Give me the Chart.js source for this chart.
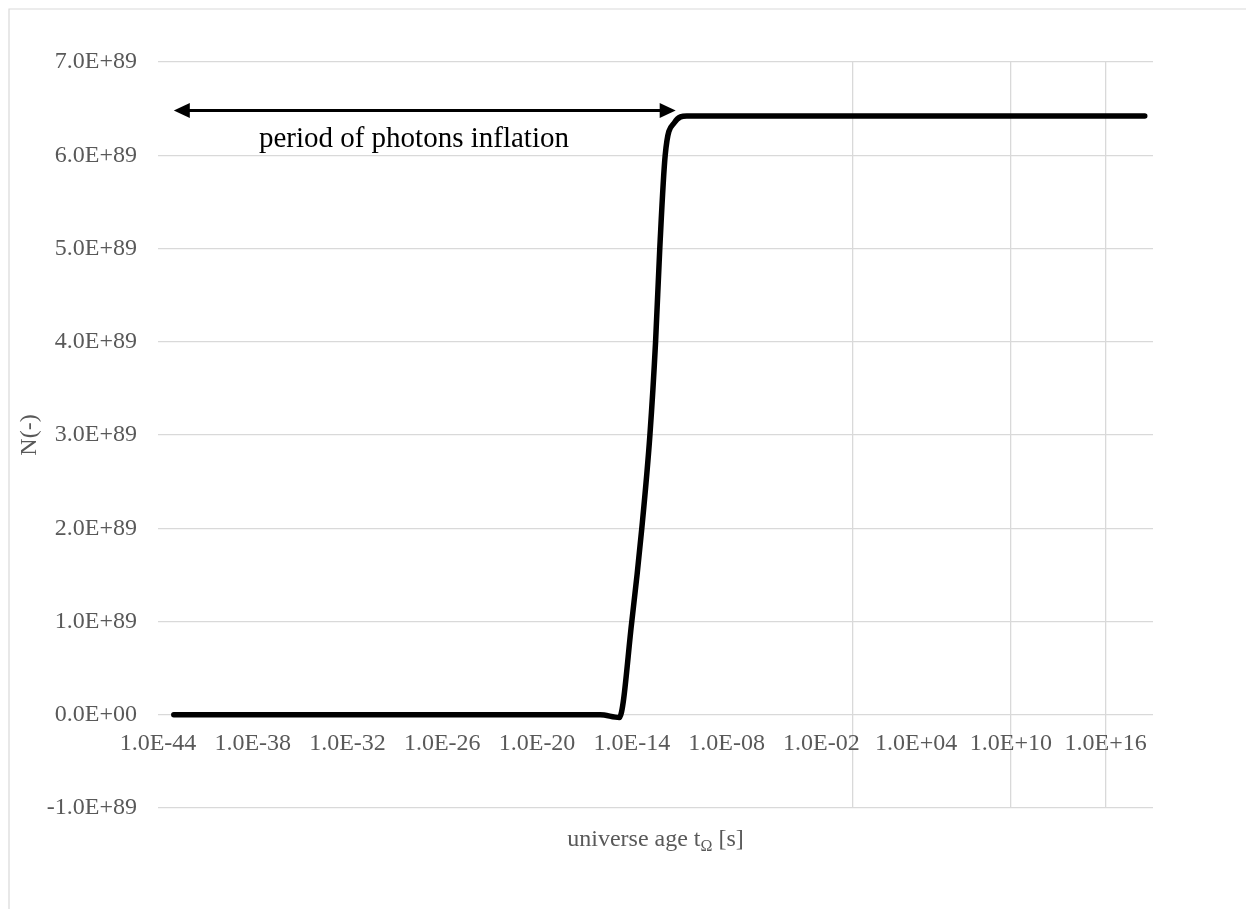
<!DOCTYPE html>
<html>
<head>
<meta charset="utf-8">
<script src="https://cdn.jsdelivr.net/npm/chart.js@4/dist/chart.umd.min.js"></script>
<style>
  html, body { margin: 0; padding: 0; background: #ffffff; }
  #wrap { position: relative; width: 1246px; height: 909px; }
</style>
</head>
<body>
<div id="wrap"><canvas id="chart" width="1246" height="909"></canvas></div>
<script>
// Universe age t [s] and number of photons N(-)
const tAge = [1e-43, 1e-40, 1e-30, 1e-20, 1e-16, 1.6e-15, 1e-14, 4.3e-14, 1.4e-13,
              3.2e-13, 5.9e-13, 1.3e-12, 5e-12, 3e-11, 1e-8, 1e-4, 1, 1e5, 1e10, 3e18];
const photonCount = [0, 0, 0, 0, 0, -0.03e89, 1.0e89, 2.0e89, 3.0e89,
                     4.0e89, 5.0e89, 6.0e89, 6.35e89, 6.42e89, 6.42e89, 6.42e89, 6.42e89, 6.42e89, 6.42e89, 6.42e89];

// Axis ticks
const xTickValues = [1e-44, 1e-38, 1e-32, 1e-26, 1e-20, 1e-14, 1e-8, 1e-2, 1e4, 1e10, 1e16];
const xTickLabels = ['1.0E-44', '1.0E-38', '1.0E-32', '1.0E-26', '1.0E-20', '1.0E-14',
                     '1.0E-08', '1.0E-02', '1.0E+04', '1.0E+10', '1.0E+16'];
const xGridValues = [1, 1e10, 1e16];
const yTickValues = [-1e89, 0, 1e89, 2e89, 3e89, 4e89, 5e89, 6e89, 7e89];
const yTickLabels = ['-1.0E+89', '0.0E+00', '1.0E+89', '2.0E+89', '3.0E+89',
                     '4.0E+89', '5.0E+89', '6.0E+89', '7.0E+89'];

// Inflation period annotation (arrow span and label)
const periodStart = 1e-43;
const periodEnd = 6e-12;
const periodLevel = 6.48e89;
const periodLabel = 'period of photons inflation';
const periodLabelAt = [1.6e-28, 6.17e89];

const GRID = '#d9d9d9';
const TEXT = '#595959';
const SERIF = '"Liberation Serif", "Times New Roman", serif';

const decor = {
  id: 'decor',
  beforeDraw(chart) {
    const c = chart.ctx;
    c.save();
    c.fillStyle = '#ffffff';
    c.fillRect(0, 0, chart.width, chart.height);
    // outer frame
    c.strokeStyle = GRID;
    c.lineWidth = 1.2;
    c.beginPath();
    c.moveTo(9, chart.height);
    c.lineTo(9, 9);
    c.lineTo(chart.width, 9);
    c.stroke();
    c.restore();
  },
  afterDraw(chart) {
    const c = chart.ctx;
    const xs = chart.scales.x, ys = chart.scales.y;
    const area = chart.chartArea;
    c.save();
    // double-headed arrow
    const x1 = xs.getPixelForValue(periodStart);
    const x2 = xs.getPixelForValue(periodEnd);
    const y = ys.getPixelForValue(periodLevel);
    const head = 16, half = 7.5;
    c.strokeStyle = '#000';
    c.fillStyle = '#000';
    c.lineWidth = 3;
    c.beginPath();
    c.moveTo(x1 + head - 2, y);
    c.lineTo(x2 - head + 2, y);
    c.stroke();
    c.beginPath();
    c.moveTo(x1, y); c.lineTo(x1 + head, y - half); c.lineTo(x1 + head, y + half); c.closePath();
    c.fill();
    c.beginPath();
    c.moveTo(x2, y); c.lineTo(x2 - head, y - half); c.lineTo(x2 - head, y + half); c.closePath();
    c.fill();
    // annotation text
    c.font = '29px ' + SERIF;
    c.textAlign = 'center';
    c.textBaseline = 'middle';
    c.fillText(periodLabel, xs.getPixelForValue(periodLabelAt[0]), ys.getPixelForValue(periodLabelAt[1]));

    // x-axis title with subscript
    c.fillStyle = TEXT;
    c.textBaseline = 'alphabetic';
    c.textAlign = 'left';
    const partA = 'universe age t', sub = '\u03A9', partB = ' [s]';
    c.font = '24px ' + SERIF;
    const wA = c.measureText(partA).width, wB = c.measureText(partB).width;
    c.font = '16px ' + SERIF;
    const wS = c.measureText(sub).width;
    const cx = (area.left + area.right) / 2;
    const base = 846;
    let px = cx - (wA + wS + wB) / 2;
    c.font = '24px ' + SERIF;
    c.fillText(partA, px, base);
    px += wA;
    c.font = '16px ' + SERIF;
    c.fillText(sub, px, base + 5);
    px += wS;
    c.font = '24px ' + SERIF;
    c.fillText(partB, px, base);

    // y-axis title
    c.save();
    c.translate(30, (area.top + area.bottom) / 2);
    c.rotate(-Math.PI / 2);
    c.textAlign = 'center';
    c.textBaseline = 'middle';
    c.fillText('N(-)', 0, 0);
    c.restore();
    c.restore();
  }
};

const points = tAge.map((t, i) => ({ x: t, y: photonCount[i] }));

new Chart(document.getElementById('chart'), {
  type: 'line',
  data: {
    datasets: [{
      data: points,
      borderColor: '#000000',
      borderWidth: 5.5,
      borderCapStyle: 'round',
      borderJoinStyle: 'round',
      pointRadius: 0,
      cubicInterpolationMode: 'monotone',
      fill: false
    }]
  },
  options: {
    responsive: false,
    animation: false,
    layout: { padding: { left: 0, right: 93, top: 62, bottom: 101 } },
    plugins: { legend: { display: false }, tooltip: { enabled: false } },
    scales: {
      x: {
        type: 'logarithmic',
        position: { y: 0 },
        min: 1e-44,
        max: 1e19,
        afterBuildTicks(scale) {
          const vals = xTickValues.concat(xGridValues.filter(v => xTickValues.indexOf(v) < 0));
          vals.sort((a, b) => a - b);
          scale.ticks = vals.map(v => ({ value: v }));
        },
        ticks: {
          autoSkip: false,
          maxRotation: 0,
          minRotation: 0,
          padding: 15,
          color: TEXT,
          font: { family: SERIF, size: 24 },
          callback(value) {
            const i = xTickValues.indexOf(value);
            return i >= 0 ? xTickLabels[i] : '';
          }
        },
        grid: {
          drawTicks: false,
          lineWidth: 1.3,
          color(ctx) {
            return ctx.tick && xGridValues.indexOf(ctx.tick.value) >= 0 ? GRID : 'rgba(0,0,0,0)';
          }
        },
        border: { display: false }
      },
      y: {
        type: 'linear',
        position: 'left',
        min: -1e89,
        max: 7e89,
        afterBuildTicks(scale) {
          scale.ticks = yTickValues.map(v => ({ value: v }));
        },
        afterFit(scale) { scale.width = 158; },
        ticks: {
          padding: 21,
          color: TEXT,
          font: { family: SERIF, size: 24 },
          callback(value) {
            const i = yTickValues.indexOf(value);
            return i >= 0 ? yTickLabels[i] : '';
          }
        },
        grid: { drawTicks: false, color: GRID, lineWidth: 1.3 },
        border: { display: false }
      }
    }
  },
  plugins: [decor]
});
</script>
</body>
</html>
